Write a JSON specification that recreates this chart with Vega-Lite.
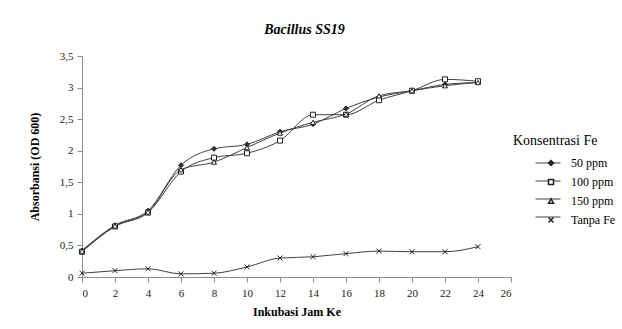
{
  "$schema": "https://vega.github.io/schema/vega-lite/v6.json",
  "autosize": {"type": "none"},
  "padding": {"left": 82, "top": 56, "right": 111, "bottom": 52},
  "width": 429,
  "height": 221,
  "background": "white",
  "title": {"text": "Bacillus SS19", "font": "Liberation Serif", "fontSize": 14, "fontWeight": "bold", "fontStyle": "italic", "color": "black", "offset": 13, "dx": 8},
  "config": {
    "view": {"stroke": null},
    "font": "Liberation Serif",
    "axis": {"grid": false, "domainColor": "#8c8c8c", "tickColor": "#8c8c8c", "labelFont": "Liberation Serif", "labelFontSize": 11, "labelColor": "#222", "titleFont": "Liberation Serif", "titleFontSize": 12, "titleFontWeight": "bold", "titleColor": "black", "tickSize": 5}
  },
  "data": {"values": [
    {"jam": 0, "seri": "50 ppm", "od": 0.42}, {"jam": 2, "seri": "50 ppm", "od": 0.82}, {"jam": 4, "seri": "50 ppm", "od": 1.05}, {"jam": 6, "seri": "50 ppm", "od": 1.77}, {"jam": 8, "seri": "50 ppm", "od": 2.03}, {"jam": 10, "seri": "50 ppm", "od": 2.1}, {"jam": 12, "seri": "50 ppm", "od": 2.3}, {"jam": 14, "seri": "50 ppm", "od": 2.42}, {"jam": 16, "seri": "50 ppm", "od": 2.67}, {"jam": 18, "seri": "50 ppm", "od": 2.85}, {"jam": 20, "seri": "50 ppm", "od": 2.95}, {"jam": 22, "seri": "50 ppm", "od": 3.05}, {"jam": 24, "seri": "50 ppm", "od": 3.08},
    {"jam": 0, "seri": "100 ppm", "od": 0.4}, {"jam": 2, "seri": "100 ppm", "od": 0.8}, {"jam": 4, "seri": "100 ppm", "od": 1.02}, {"jam": 6, "seri": "100 ppm", "od": 1.67}, {"jam": 8, "seri": "100 ppm", "od": 1.89}, {"jam": 10, "seri": "100 ppm", "od": 1.96}, {"jam": 12, "seri": "100 ppm", "od": 2.16}, {"jam": 14, "seri": "100 ppm", "od": 2.57}, {"jam": 16, "seri": "100 ppm", "od": 2.57}, {"jam": 18, "seri": "100 ppm", "od": 2.8}, {"jam": 20, "seri": "100 ppm", "od": 2.95}, {"jam": 22, "seri": "100 ppm", "od": 3.13}, {"jam": 24, "seri": "100 ppm", "od": 3.1},
    {"jam": 0, "seri": "150 ppm", "od": 0.41}, {"jam": 2, "seri": "150 ppm", "od": 0.81}, {"jam": 4, "seri": "150 ppm", "od": 1.03}, {"jam": 6, "seri": "150 ppm", "od": 1.7}, {"jam": 8, "seri": "150 ppm", "od": 1.82}, {"jam": 10, "seri": "150 ppm", "od": 2.05}, {"jam": 12, "seri": "150 ppm", "od": 2.28}, {"jam": 14, "seri": "150 ppm", "od": 2.45}, {"jam": 16, "seri": "150 ppm", "od": 2.58}, {"jam": 18, "seri": "150 ppm", "od": 2.87}, {"jam": 20, "seri": "150 ppm", "od": 2.95}, {"jam": 22, "seri": "150 ppm", "od": 3.03}, {"jam": 24, "seri": "150 ppm", "od": 3.08},
    {"jam": 0, "seri": "Tanpa Fe", "od": 0.06}, {"jam": 2, "seri": "Tanpa Fe", "od": 0.1}, {"jam": 4, "seri": "Tanpa Fe", "od": 0.13}, {"jam": 6, "seri": "Tanpa Fe", "od": 0.05}, {"jam": 8, "seri": "Tanpa Fe", "od": 0.06}, {"jam": 10, "seri": "Tanpa Fe", "od": 0.16}, {"jam": 12, "seri": "Tanpa Fe", "od": 0.3}, {"jam": 14, "seri": "Tanpa Fe", "od": 0.32}, {"jam": 16, "seri": "Tanpa Fe", "od": 0.37}, {"jam": 18, "seri": "Tanpa Fe", "od": 0.41}, {"jam": 20, "seri": "Tanpa Fe", "od": 0.4}, {"jam": 22, "seri": "Tanpa Fe", "od": 0.4}, {"jam": 24, "seri": "Tanpa Fe", "od": 0.48}
  ]},
  "encoding": {
    "x": {"field": "jam", "type": "quantitative", "scale": {"domain": [0, 26], "nice": false, "zero": false}, "axis": {"values": [0,2,4,6,8,10,12,14,16,18,20,22,24,26], "title": "Inkubasi Jam Ke", "labelPadding": 5, "titlePadding": 8}},
    "y": {"field": "od", "type": "quantitative", "scale": {"domain": [0, 3.5], "nice": false}, "axis": {"values": [0,0.5,1,1.5,2,2.5,3,3.5], "labelExpr": "replace(format(datum.value, '~g'), '.', ',')", "title": "Absorbansi (OD 600)", "titleFontSize": 12, "labelPadding": 4, "titlePadding": 18}}
  },
  "layer": [
    {"mark": {"type": "line", "interpolate": "monotone", "strokeWidth": 1},
     "encoding": {
       "color": {"field": "seri", "type": "nominal", "sort": ["50 ppm", "100 ppm", "150 ppm", "Tanpa Fe"], "scale": {"range": ["#404040", "#404040", "#404040", "#404040"]},
         "legend": {"title": null, "orient": "none", "legendX": 453, "legendY": 94, "symbolType": "stroke", "symbolSize": 625, "symbolStrokeWidth": 1, "symbolOffset": 0, "rowPadding": -6, "labelExpr": "''", "labelOffset": 0}}
     }},
    {"mark": {"type": "point", "filled": false, "stroke": "#222", "strokeWidth": 1, "opacity": 1},
     "encoding": {
       "shape": {"field": "seri", "type": "nominal", "scale": {"domain": ["50 ppm", "100 ppm", "150 ppm", "Tanpa Fe"], "range": ["diamond", "square", "triangle-up", "M-1,-1L1,1M-1,1L1,-1"]},
         "legend": {"title": "Konsentrasi Fe", "orient": "none", "legendX": 431, "legendY": 78, "titleFont": "Liberation Serif", "titleFontSize": 14, "titleFontWeight": "normal", "titleColor": "black", "titlePadding": 9, "labelFont": "Liberation Serif", "labelFontSize": 12, "labelColor": "black", "symbolOffset": 32, "labelOffset": 14, "rowPadding": 7, "symbolSize": 25,
           "encode": {"symbols": {"update": {
             "stroke": {"value": "#222"},
             "strokeWidth": {"value": 1},
             "fill": {"signal": "datum.value === '50 ppm' ? '#333' : 'white'"},
             "opacity": {"value": 1}
           }}}}},
       "fill": {"field": "seri", "type": "nominal", "scale": {"domain": ["50 ppm", "100 ppm", "150 ppm", "Tanpa Fe"], "range": ["#333", "white", "white", "white"]}, "legend": null},
       "size": {"value": 25}
     }}
  ]
}
